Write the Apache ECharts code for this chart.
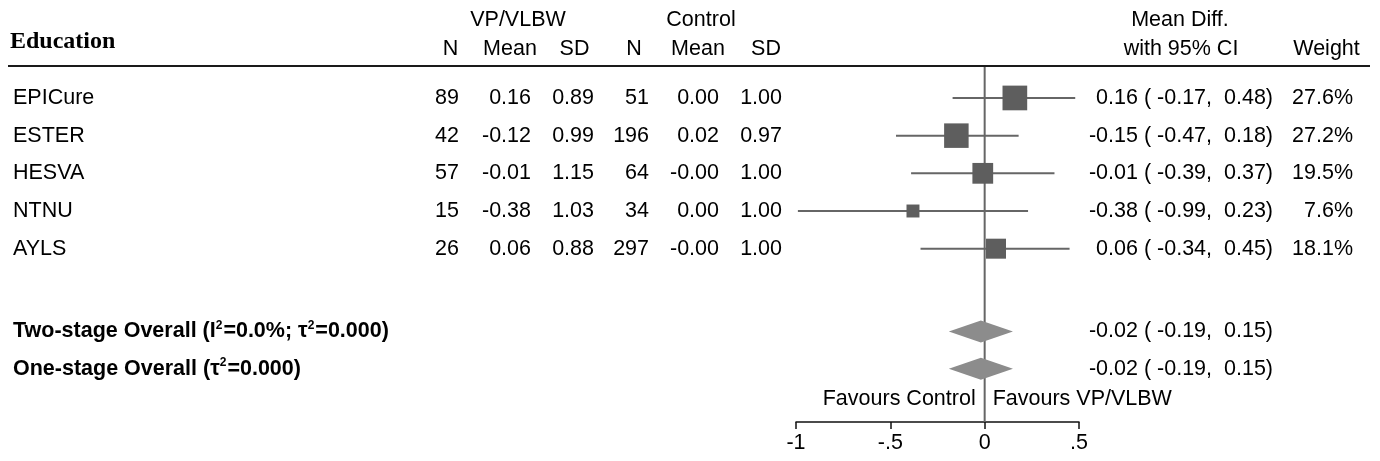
<!DOCTYPE html>
<html><head><meta charset="utf-8">
<script src="https://cdn.jsdelivr.net/npm/echarts@6/dist/echarts.min.js"></script>
<style>html,body{margin:0;padding:0;background:#fff}#c{width:1380px;height:461px}</style>
</head><body><div id="c"></div>
<script>
// ---------- data ----------
const studies   = ['EPICure','ESTER','HESVA','NTNU','AYLS'];
const vpN       = [89, 42, 57, 15, 26];
const vpMean    = ['0.16','-0.12','-0.01','-0.38','0.06'];
const vpSD      = ['0.89','0.99','1.15','1.03','0.88'];
const ctrlN     = [51, 196, 64, 34, 297];
const ctrlMean  = ['0.00','0.02','-0.00','0.00','-0.00'];
const ctrlSD    = ['1.00','0.97','1.00','1.00','1.00'];
const meanDiff  = [0.16, -0.15, -0.01, -0.38, 0.06];
const ciLow     = [-0.17, -0.47, -0.39, -0.99, -0.34];
const ciHigh    = [0.48, 0.18, 0.37, 0.23, 0.45];
const weights   = [27.6, 27.2, 19.5, 7.6, 18.1];
// rich-text labels: {s|2} is a superscript 2
const overallLabels = ['{b|Two-stage Overall (I}{s|2}{b|=0.0%; \u03C4}{s|2}{b|=0.000)}', '{b|One-stage Overall (\u03C4}{s|2}{b|=0.000)}'];
const overallMD   = [-0.02, -0.02];
const overallLow  = [-0.19, -0.19];
const overallHigh = [0.15, 0.15];
const xTickValues = [-1, -0.5, 0, 0.5];
const xTickLabels = ['-1', '-.5', '0', '.5'];
const favourLabels = ['Favours Control', 'Favours VP/VLBW'];

// ---------- layout ----------
const FAM = '"Liberation Sans", Arial, sans-serif';
const FONT = '21.5px ' + FAM;
const BOLD = 'bold 21.5px ' + FAM;
const YMIN = -1.6, YMAX = 9.6;
const rowY = i => i + 1;
const overallY = [7.2, 8.19];
const hdr1Y = -1.07, hdr2Y = -0.30, eduY = -0.485, lineY = 0.152, favY = 8.99;
const f2 = v => v.toFixed(2);
const pad = v => (v >= 0 ? ' ' : '') + f2(v);

const texts = [];
function T(x, y, text, align, font, rich) { texts.push({x, y, text, align, font: font || FONT, rich}); }
T(10, eduY, 'Education', 'left', 'bold 24px "Liberation Serif", "Times New Roman", serif');
T(518, hdr1Y, 'VP/VLBW', 'center');
T(701, hdr1Y, 'Control', 'center');
T(1180, hdr1Y, 'Mean Diff.', 'center');
T(450.5, hdr2Y, 'N', 'center');
T(510, hdr2Y, 'Mean', 'center');
T(574.5, hdr2Y, 'SD', 'center');
T(634, hdr2Y, 'N', 'center');
T(698, hdr2Y, 'Mean', 'center');
T(766, hdr2Y, 'SD', 'center');
T(1181, hdr2Y, 'with 95% CI', 'center');
T(1326.5, hdr2Y, 'Weight', 'center');
studies.forEach((s, i) => {
  const y = rowY(i);
  T(13, y, s, 'left');
  T(459, y, String(vpN[i]), 'right');
  T(531, y, vpMean[i], 'right');
  T(594, y, vpSD[i], 'right');
  T(649, y, String(ctrlN[i]), 'right');
  T(719, y, ctrlMean[i], 'right');
  T(782, y, ctrlSD[i], 'right');
  T(1273, y, f2(meanDiff[i]) + ' ( ' + f2(ciLow[i]) + ', ' + pad(ciHigh[i]) + ')', 'right');
  T(1353, y, weights[i].toFixed(1) + '%', 'right');
});
const richSup = {
  b: {fontFamily: FAM, fontWeight: 'bold', fontSize: 21.5, fill: '#000', lineHeight: 26},
  s: {fontFamily: FAM, fontWeight: 'bold', fontSize: 12, fill: '#000', lineHeight: 26, verticalAlign: 'top', padding: [1, 1, 0, 0]}
};
overallLabels.forEach((s, j) => {
  T(13, overallY[j], s, 'left', BOLD, richSup);
  T(1273, overallY[j], f2(overallMD[j]) + ' ( ' + f2(overallLow[j]) + ', ' + pad(overallHigh[j]) + ')', 'right');
});

const chart = echarts.init(document.getElementById('c'), null, {renderer: 'canvas'});
const yAxisBase = {type: 'value', min: YMIN, max: YMAX, inverse: true, show: false};

chart.setOption({
  animation: false,
  backgroundColor: '#fff',
  grid: [
    {left: 796, width: 283, top: 0, height: 422},
    {left: 0, right: 0, top: 0, height: 422}
  ],
  xAxis: [
    {type: 'value', gridIndex: 0, position: 'bottom', min: -1, max: 0.5, interval: 0.5,
     axisLine: {show: true, onZero: false, lineStyle: {color: '#111', width: 1.5}},
     axisTick: {show: true, inside: false, length: 7, lineStyle: {color: '#111', width: 1.5}},
     axisLabel: {color: '#000', fontSize: 21.5, fontFamily: FAM, margin: 10,
                 formatter: v => { const k = xTickValues.findIndex(t => Math.abs(t - v) < 1e-9); return k >= 0 ? xTickLabels[k] : ''; }},
     splitLine: {show: false}},
    {type: 'value', gridIndex: 1, min: 0, max: 1380, show: false}
  ],
  yAxis: [
    Object.assign({gridIndex: 0}, yAxisBase),
    Object.assign({gridIndex: 1}, yAxisBase)
  ],
  series: [
    // header rule
    {type: 'line', xAxisIndex: 1, yAxisIndex: 1, data: [[8, lineY], [1370, lineY]],
     symbol: 'none', lineStyle: {color: '#1a1a1a', width: 2}, silent: true, z: 1},
    // zero line
    {type: 'line', xAxisIndex: 0, yAxisIndex: 0, data: [[0, 0.18], [0, YMAX]],
     symbol: 'none', lineStyle: {color: '#666', width: 2}, silent: true, z: 2},
    // study CIs and squares
    {type: 'custom', xAxisIndex: 0, yAxisIndex: 0, clip: false, z: 3,
     data: studies.map((s, i) => [meanDiff[i], ciLow[i], ciHigh[i], weights[i], rowY(i)]),
     renderItem: (params, api) => {
       const y = api.value(4);
       const pm = api.coord([api.value(0), y]);
       const pl = api.coord([api.value(1), y]);
       const ph = api.coord([api.value(2), y]);
       const s = 4.7 * Math.sqrt(api.value(3));
       return {type: 'group', children: [
         {type: 'line', shape: {x1: pl[0], y1: pl[1], x2: ph[0], y2: ph[1]}, style: {stroke: '#666', lineWidth: 2}},
         {type: 'rect', shape: {x: pm[0] - s / 2, y: pm[1] - s / 2, width: s, height: s}, style: {fill: '#5e5e5e'}}
       ]};
     }},
    // overall diamonds
    {type: 'custom', xAxisIndex: 0, yAxisIndex: 0, clip: false, z: 3,
     data: overallMD.map((m, j) => [m, overallLow[j], overallHigh[j], overallY[j]]),
     renderItem: (params, api) => {
       const y = api.value(3);
       const pm = api.coord([api.value(0), y]);
       const pl = api.coord([api.value(1), y]);
       const ph = api.coord([api.value(2), y]);
       const h = 11;
       return {type: 'polygon', shape: {points: [[pl[0], pl[1]], [pm[0], pm[1] - h], [ph[0], ph[1]], [pm[0], pm[1] + h]]},
               style: {fill: '#8c8c8c'}};
     }},
    // favours labels
    {type: 'custom', xAxisIndex: 0, yAxisIndex: 0, clip: false, z: 4,
     data: favourLabels.map((s, j) => [0, favY]),
     renderItem: (params, api) => {
       const p = api.coord([api.value(0), api.value(1)]);
       const left = params.dataIndex === 0;
       return {type: 'text', x: p[0] + (left ? -9 : 8), y: p[1],
               style: {text: favourLabels[params.dataIndex], font: FONT, fill: '#000',
                       align: left ? 'right' : 'left', textAlign: left ? 'right' : 'left',
                       verticalAlign: 'middle', textVerticalAlign: 'middle'}};
     }},
    // table text
    {type: 'custom', xAxisIndex: 1, yAxisIndex: 1, clip: false, z: 4,
     data: texts.map(t => [t.x, t.y]),
     renderItem: (params, api) => {
       const t = texts[params.dataIndex];
       const p = api.coord([api.value(0), api.value(1)]);
       const style = {text: t.text, fill: '#000',
                      align: t.align, textAlign: t.align, verticalAlign: 'middle', textVerticalAlign: 'middle'};
       if (t.rich) style.rich = t.rich; else style.font = t.font;
       return {type: 'text', x: p[0], y: p[1], style};
     }}
  ]
});
</script></body></html>
